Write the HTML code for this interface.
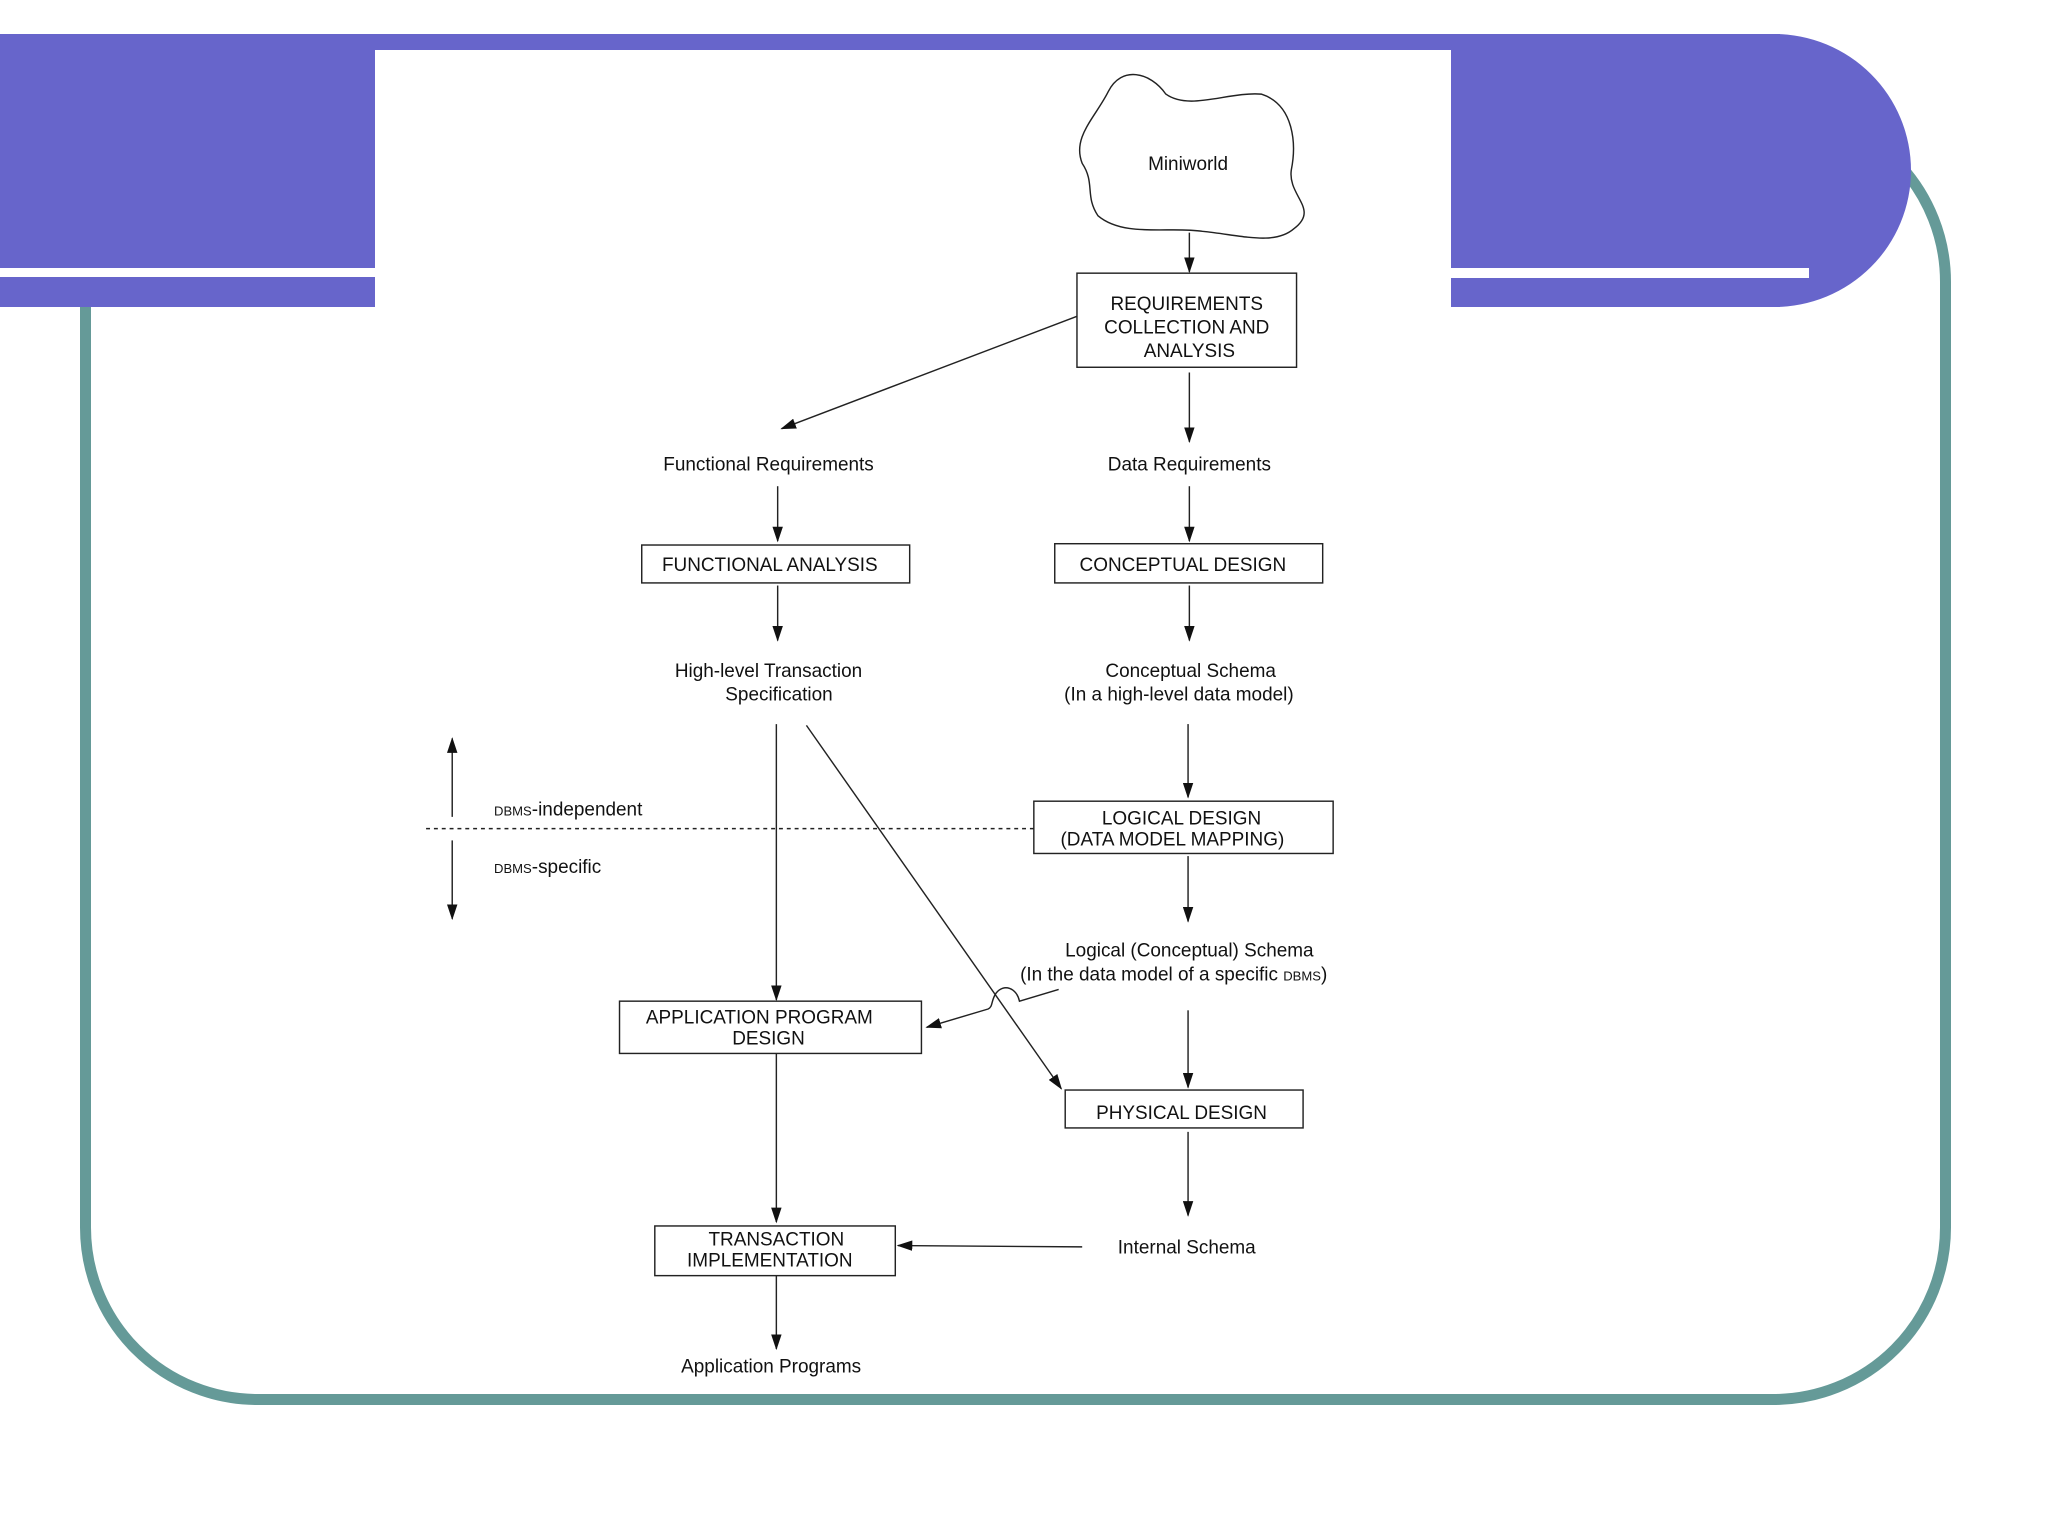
<!DOCTYPE html>
<html><head><meta charset="utf-8"><style>
html,body{margin:0;padding:0;background:#fff;}
svg{display:block;}
text{font-family:"Liberation Sans",Arial,sans-serif;fill:#111;}
</style></head><body>
<svg width="2048" height="1536" viewBox="0 0 2048 1536" xmlns="http://www.w3.org/2000/svg">
<defs>
<marker id="a" markerUnits="userSpaceOnUse" markerWidth="12" markerHeight="8" refX="11" refY="4" orient="auto">
<path d="M0,0 L12,4 L0,8 Z" fill="#111"/></marker>
</defs>
<rect x="0" y="0" width="2048" height="1536" fill="#fff"/>
<!-- teal frame -->
<rect x="85.5" y="110" width="1860" height="1289.5" rx="172" ry="172" fill="none" stroke="#659a98" stroke-width="11"/>
<!-- purple bands -->
<rect x="0" y="34" width="1780" height="273" fill="#6765cb"/>
<path d="M1774,34 A137,136.5 0 0 1 1774,307 L1700,307 L1700,34 Z" fill="#6765cb"/>
<rect x="0" y="268" width="376" height="9" fill="#fff"/>
<rect x="1451" y="268" width="358" height="10" fill="#fff"/>
<!-- white panel -->
<rect x="375" y="50" width="1076" height="1340" fill="#fff"/>
<g transform="scale(1.307)" stroke="#222" stroke-width="1.1" fill="none">
<path d="M848,70 C858,50 880,55 892,72 C910,85 940,70 965,72 C990,80 992,110 988,130 C985,150 1010,160 990,175 C975,188 950,180 920,177 C895,173 860,182 840,165 C830,150 838,140 828,125 C820,105 838,90 848,70 Z"/>
<line x1="910" y1="178" x2="910" y2="208" marker-end="url(#a)"/>
<rect x="824" y="209" width="168" height="72"/>
<line x1="824" y1="242" x2="598" y2="328" marker-end="url(#a)"/>
<line x1="910" y1="285" x2="910" y2="338" marker-end="url(#a)"/>
<line x1="595" y1="372" x2="595" y2="414" marker-end="url(#a)"/>
<line x1="910" y1="372" x2="910" y2="414" marker-end="url(#a)"/>
<rect x="491" y="417" width="205" height="29"/>
<rect x="807" y="416" width="205" height="30"/>
<line x1="595" y1="448" x2="595" y2="490" marker-end="url(#a)"/>
<line x1="910" y1="448" x2="910" y2="490" marker-end="url(#a)"/>
<line x1="594" y1="554" x2="594" y2="765" marker-end="url(#a)"/>
<line x1="617" y1="555" x2="812" y2="833" marker-end="url(#a)"/>
<line x1="909" y1="554" x2="909" y2="610" marker-end="url(#a)"/>
<rect x="791" y="613" width="229" height="40"/>
<line x1="326" y1="634" x2="791" y2="634" stroke-dasharray="3,3"/>
<line x1="346" y1="625" x2="346" y2="565" marker-end="url(#a)"/>
<line x1="346" y1="643" x2="346" y2="703" marker-end="url(#a)"/>
<line x1="909" y1="655" x2="909" y2="705" marker-end="url(#a)"/>
<path d="M810,757 L780,766 C778,756 768,752 762,760 C758,766 760,770 756,772 L709,786" marker-end="url(#a)"/>
<rect x="474" y="766" width="231" height="40"/>
<line x1="909" y1="773" x2="909" y2="832" marker-end="url(#a)"/>
<rect x="815" y="834" width="182" height="29"/>
<line x1="594" y1="806" x2="594" y2="935" marker-end="url(#a)"/>
<line x1="909" y1="866" x2="909" y2="930" marker-end="url(#a)"/>
<rect x="501" y="938" width="184" height="38"/>
<line x1="828" y1="954" x2="687" y2="953" marker-end="url(#a)"/>
<line x1="594" y1="976" x2="594" y2="1032" marker-end="url(#a)"/>
</g>
<g transform="scale(1.307)" font-size="14.5" text-anchor="middle">
<text x="909" y="130">Miniworld</text>
<text x="908" y="237">REQUIREMENTS</text>
<text x="908" y="255">COLLECTION AND</text>
<text x="910" y="273">ANALYSIS</text>
<text x="588" y="360">Functional Requirements</text>
<text x="910" y="360">Data Requirements</text>
<text x="589" y="437">FUNCTIONAL ANALYSIS</text>
<text x="905" y="437">CONCEPTUAL DESIGN</text>
<text x="588" y="518">High-level Transaction</text>
<text x="596" y="536">Specification</text>
<text x="911" y="518">Conceptual Schema</text>
<text x="902" y="536">(In a high-level data model)</text>
<text x="904" y="631">LOGICAL DESIGN</text>
<text x="897" y="647">(DATA MODEL MAPPING)</text>
<text x="378" y="624" text-anchor="start"><tspan font-size="10">DBMS</tspan>-independent</text>
<text x="378" y="668" text-anchor="start"><tspan font-size="10">DBMS</tspan>-specific</text>
<text x="910" y="732">Logical (Conceptual) Schema</text>
<text x="898" y="750">(In the data model of a specific <tspan font-size="10">DBMS</tspan>)</text>
<text x="581" y="783">APPLICATION PROGRAM</text>
<text x="588" y="799">DESIGN</text>
<text x="904" y="856">PHYSICAL DESIGN</text>
<text x="594" y="953">TRANSACTION</text>
<text x="589" y="969">IMPLEMENTATION</text>
<text x="908" y="959">Internal Schema</text>
<text x="590" y="1050">Application Programs</text>
</g>
</svg>
</body></html>
